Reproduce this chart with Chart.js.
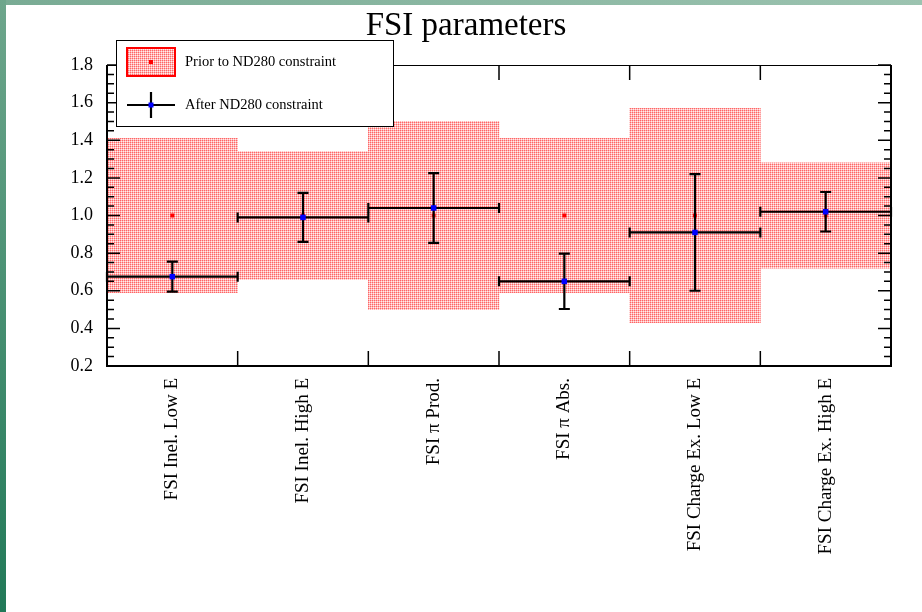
<!DOCTYPE html>
<html>
<head>
<meta charset="utf-8">
<title>FSI parameters</title>
<script src="https://cdn.jsdelivr.net/npm/chart.js@4.4.0/dist/chart.umd.min.js"></script>
<style>
  html, body { margin: 0; padding: 0; background: #fff; }
  #wrap { position: relative; width: 922px; height: 612px; overflow: hidden; }
  #wrap canvas { position: absolute; left: 0; top: 0; }
  .edge-top { position: absolute; left: 0; top: 0; width: 922px; height: 5px; background: linear-gradient(to right, #79ab94, #9cc3b0); z-index: 2; }
  .edge-left { position: absolute; left: 0; top: 0; width: 6px; height: 612px; background: linear-gradient(to bottom, #6ea68c, #217958); z-index: 2; }
</style>
</head>
<body>
<div id="wrap">
  <canvas id="fsiChart" width="922" height="612"></canvas>
  <div class="edge-top"></div>
  <div class="edge-left"></div>
</div>
<script>
// ─── Data ──────────────────────────────────────
const categories = [
  "FSI Inel. Low E",
  "FSI Inel. High E",
  "FSI \u03c0 Prod.",
  "FSI \u03c0 Abs.",
  "FSI Charge Ex. Low E",
  "FSI Charge Ex. High E",
];
const priorValues = [1.0, 1.0, 1.0, 1.0, 1.0, 1.0];
const priorErrors = [0.41, 0.34, 0.50, 0.41, 0.57, 0.28];
const afterValues = [0.675, 0.99, 1.04, 0.65, 0.91, 1.02];
const afterErrors = [0.08, 0.13, 0.185, 0.147, 0.31, 0.105];

const yMin = 0.2;
const yMax = 1.8;
const yStep = 0.2;
const yMinorStep = 0.05;

const SERIF = "'Liberation Serif', 'Times New Roman', serif";

// ─── Helpers ───────────────────────────────────
// small dotted fill for the prior bands
function dotPattern() {
  const tile = document.createElement("canvas");
  tile.width = 2;
  tile.height = 2;
  const c = tile.getContext("2d");
  c.fillStyle = "#ffb4b4";
  c.fillRect(0, 0, 2, 2);
  c.fillStyle = "#ff6666";
  c.fillRect(0, 0, 1, 1);
  c.fillStyle = "#ffeeee";
  c.fillRect(1, 1, 1, 1);
  return c.createPattern(tile, "repeat");
}

function seg(ctx, x1, y1, x2, y2) {
  ctx.moveTo(x1, y1);
  ctx.lineTo(x2, y2);
}

const bandFill = dotPattern();

// ─── Plugins ───────────────────────────────────
// error crosses (bin width horizontally, ±error vertically) under the markers
const errorBars = {
  id: "errorBars",
  beforeDatasetDraw(chart, args) {
    const ds = chart.data.datasets[args.index];
    if (!ds.yErrors) return;
    const { ctx, scales: { x, y } } = chart;
    const half = (x.getPixelForValue(1) - x.getPixelForValue(0)) / 2;
    ctx.save();
    ctx.strokeStyle = "#000";
    ctx.lineWidth = 2.2;
    ds.data.forEach((v, i) => {
      const px = x.getPixelForValue(i);
      const py = y.getPixelForValue(v);
      const top = y.getPixelForValue(v + ds.yErrors[i]);
      const bot = y.getPixelForValue(v - ds.yErrors[i]);
      ctx.beginPath();
      seg(ctx, px - half, py, px + half, py);
      seg(ctx, px - half, py - 5, px - half, py + 5);
      seg(ctx, px + half, py - 5, px + half, py + 5);
      seg(ctx, px, top, px, bot);
      seg(ctx, px - 5.5, top, px + 5.5, top);
      seg(ctx, px - 5.5, bot, px + 5.5, bot);
      ctx.stroke();
    });
    ctx.restore();
  },
};

// box frame with inward ticks
const frameAxes = {
  id: "frameAxes",
  afterDatasetsDraw(chart) {
    const { ctx, chartArea: a, scales: { x, y } } = chart;
    ctx.save();
    ctx.strokeStyle = "#000";
    ctx.lineWidth = 1.5;
    ctx.beginPath();
    const n = Math.round((yMax - yMin) / yMinorStep);
    for (let k = 0; k <= n; k++) {
      const v = yMin + k * yMinorStep;
      const py = y.getPixelForValue(v);
      const major = k % Math.round(yStep / yMinorStep) === 0;
      const len = major ? 13 : 7;
      seg(ctx, a.left, py, a.left + len, py);
      seg(ctx, a.right, py, a.right - len, py);
    }
    for (let i = 1; i < categories.length; i++) {
      const px = (x.getPixelForValue(i - 1) + x.getPixelForValue(i)) / 2;
      seg(ctx, px, a.bottom, px, a.bottom - 15);
      seg(ctx, px, a.top, px, a.top + 15);
    }
    ctx.stroke();

    ctx.lineWidth = 2;
    ctx.beginPath();
    seg(ctx, a.left, a.top, a.left, a.bottom);
    seg(ctx, a.left - 1, a.bottom, a.right + 1, a.bottom);
    seg(ctx, a.right, a.bottom, a.right, a.top);
    ctx.stroke();
    ctx.lineWidth = 1;
    ctx.beginPath();
    seg(ctx, a.left, a.top + 0.5, a.right, a.top + 0.5);
    ctx.stroke();
    ctx.restore();
  },
};

// legend box in the upper left corner
const boxLegend = {
  id: "boxLegend",
  afterDraw(chart) {
    const { ctx } = chart;
    const prior = chart.data.datasets[0];
    const after = chart.data.datasets[2];
    ctx.save();
    ctx.fillStyle = "#fff";
    ctx.fillRect(116, 40, 277, 86);
    ctx.strokeStyle = "#000";
    ctx.lineWidth = 1;
    ctx.strokeRect(116.5, 40.5, 277, 86);

    // prior entry: dotted box with centre dot
    ctx.fillStyle = bandFill;
    ctx.fillRect(127, 48, 48, 28);
    ctx.strokeStyle = "#ff0000";
    ctx.lineWidth = 2;
    ctx.strokeRect(127, 48, 48, 28);
    ctx.fillStyle = "#ff0000";
    ctx.fillRect(149, 60, 4, 4);

    // after entry: cross with blue marker
    ctx.strokeStyle = "#000";
    ctx.lineWidth = 2.2;
    ctx.beginPath();
    seg(ctx, 127, 105, 175, 105);
    seg(ctx, 151, 92, 151, 118);
    ctx.stroke();
    ctx.fillStyle = "#0000ff";
    ctx.fillRect(148.5, 102.5, 5, 5);

    ctx.fillStyle = "#000";
    ctx.font = "14.5px " + SERIF;
    ctx.textBaseline = "middle";
    ctx.textAlign = "left";
    ctx.fillText(prior.label, 185, 62);
    ctx.fillText(after.label, 185, 105);
    ctx.restore();
  },
};

// ─── Chart ─────────────────────────────────────
new Chart(document.getElementById("fsiChart"), {
  type: "bar",
  data: {
    labels: categories,
    datasets: [
      {
        type: "bar",
        label: "Prior to ND280 constraint",
        data: priorValues.map((v, i) => [v - priorErrors[i], v + priorErrors[i]]),
        backgroundColor: bandFill,
        borderWidth: 0,
        barPercentage: 1,
        categoryPercentage: 1,
        order: 3,
      },
      {
        type: "line",
        label: "Prior central value",
        data: priorValues,
        showLine: false,
        pointStyle: "rect",
        pointRadius: 2.8,
        pointBorderWidth: 0,
        pointBackgroundColor: "#ff0000",
        order: 2,
      },
      {
        type: "line",
        label: "After ND280 constraint",
        data: afterValues,
        yErrors: afterErrors,
        showLine: false,
        pointStyle: "rect",
        pointRadius: 3.9,
        pointBorderWidth: 0,
        pointBackgroundColor: "#0000ff",
        order: 1,
      },
    ],
  },
  options: {
    responsive: false,
    animation: false,
    events: [],
    layout: { padding: { left: 41, right: 31, top: 0, bottom: 0 } },
    plugins: {
      legend: { display: false },
      tooltip: { enabled: false },
      title: {
        display: true,
        text: "FSI parameters",
        color: "#000",
        font: { family: SERIF, size: 33, weight: "normal" },
        padding: { top: 7, bottom: 18.4 },
      },
    },
    scales: {
      x: {
        offset: true,
        grid: { display: false, drawTicks: false },
        border: { display: false },
        ticks: {
          autoSkip: false,
          minRotation: 90,
          maxRotation: 90,
          padding: 12,
          color: "#000",
          font: { family: SERIF, size: 19 },
        },
        afterFit: (s) => { s.height = 246; },
      },
      y: {
        min: yMin,
        max: yMax,
        grid: { display: false, drawTicks: false },
        border: { display: false },
        ticks: {
          stepSize: yStep,
          padding: 14,
          color: "#000",
          font: { family: SERIF, size: 18 },
          callback: (v) => v.toFixed(1),
        },
        afterFit: (s) => { s.width = 66; },
      },
    },
  },
  plugins: [errorBars, frameAxes, boxLegend],
});
</script>
</body>
</html>
